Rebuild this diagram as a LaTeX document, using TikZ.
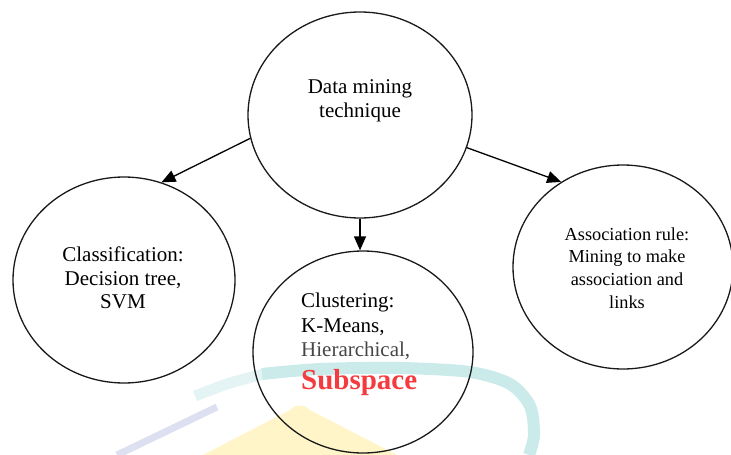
\documentclass[tikz,border=0pt]{standalone}
\usepackage{fontspec}
\setmainfont{Liberation Serif}
\usetikzlibrary{shapes.geometric,arrows.meta}
\definecolor{wmcyan}{RGB}{203,235,235}
\definecolor{wmcyanlight}{RGB}{228,244,244}
\definecolor{wmyellow}{RGB}{255,245,200}
\definecolor{wmblue}{RGB}{220,224,240}
\definecolor{subred}{RGB}{244,60,64}
\definecolor{hiergray}{RGB}{70,70,70}
\tikzset{
  oval/.style={draw=black!90, line width=1.3pt, ellipse, inner sep=0pt},
  txt/.style={align=center, inner sep=0pt},
  conn/.style={line width=1.3pt, -{Triangle[length=14pt,width=12pt]}},
  big/.style={font=\fontsize{21}{23.5}\selectfont},
  small/.style={font=\fontsize{18.3}{22.7}\selectfont}
}
\begin{document}
\begin{tikzpicture}[x=1pt,y=-1pt]
\useasboundingbox (0,0) rectangle (731,455);
% faint watermark
\fill[wmyellow] (203,455) -- (290,410) .. controls (296,404) and (304,404) .. (310,410) -- (397,455) -- cycle;
\draw[wmcyanlight, line width=11pt] plot[smooth] coordinates {(195,396) (230,383) (268,373)};
\draw[wmcyan, line width=12pt] plot[smooth] coordinates {(262,374) (320,369) (400,368) (470,372) (510,384) (530,406) (534,435) (529,455)};
\draw[wmblue, line width=7pt] (117,455) -- (217,407);
% ellipses
\node[oval, minimum width=224pt, minimum height=206pt] (top) at (360,115) {};
\node[oval, minimum width=222pt, minimum height=206pt] (left) at (124,280) {};
\node[oval, minimum width=220pt, minimum height=202pt] (mid) at (363,352) {};
\node[oval, minimum width=220pt, minimum height=204pt] (right) at (623,267) {};
% texts
\node[txt, big] (toptxt) at (360,101) {Data mining\\technique};
\node[txt, big] (lefttxt) at (123,278) {Classification:\\Decision tree,\\SVM};
\node[txt, small] (righttxt) at (627,268) {Association rule:\\Mining to make\\association and\\links};
\node[inner sep=0pt, anchor=base west, big] (m1) at (301,307) {Clustering:};
\node[inner sep=0pt, anchor=base west, big] (m2) at (301,332) {K-Means,};
\node[inner sep=0pt, anchor=base west, big, text=hiergray] (m3) at (301,356) {Hierarchical,};
\node[inner sep=0pt, anchor=base west, font=\fontsize{29}{32}\selectfont\bfseries, text=subred] (m4) at (301,389) {Subspace};
% connectors
\draw[conn] (top.192.7) -- (left.69.4);
\draw[conn] (top.343.6) -- (right.126.9);
\draw[conn] (top.south) -- (top.south |- mid.north);
\end{tikzpicture}
\end{document}
